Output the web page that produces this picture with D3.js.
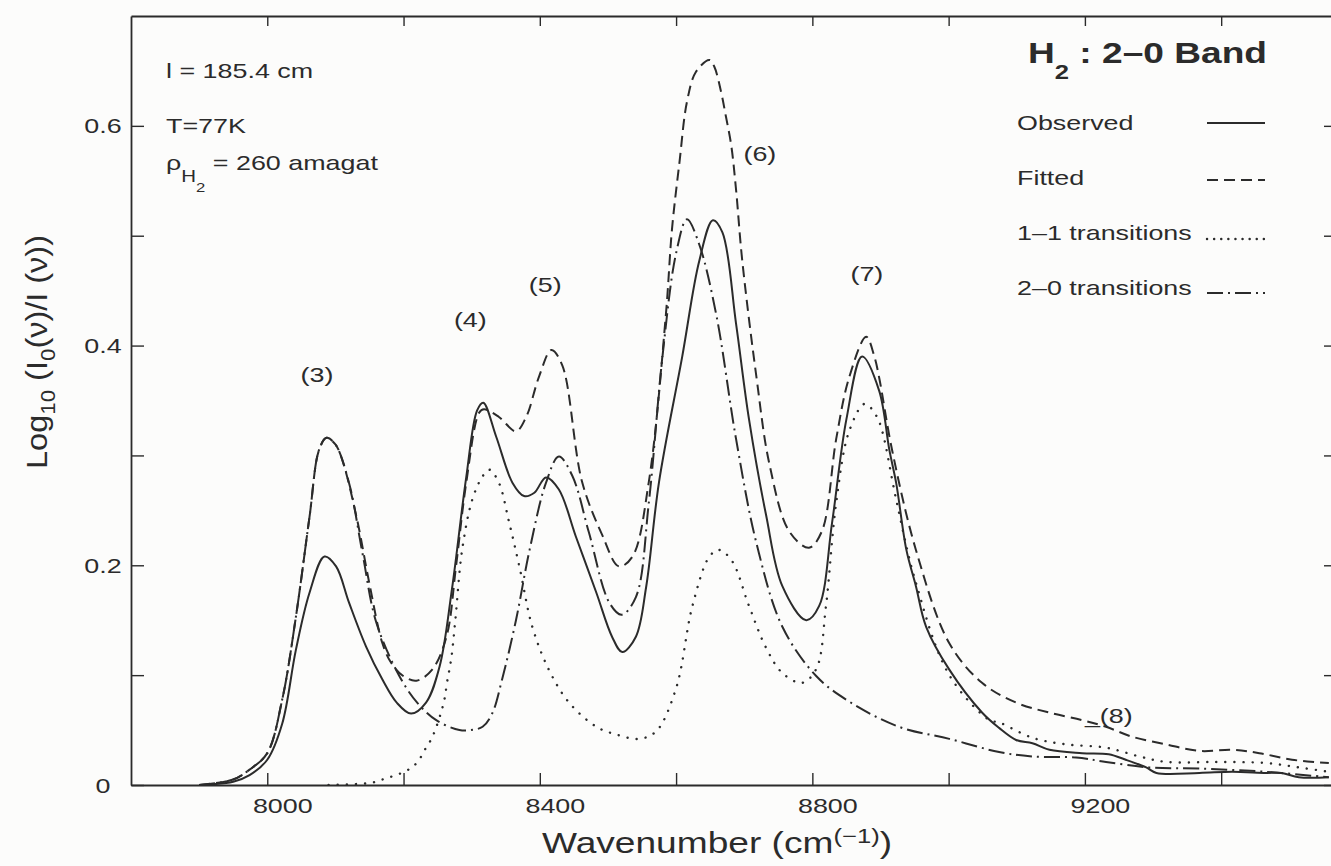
<!DOCTYPE html>
<html>
<head>
<meta charset="utf-8">
<script src="https://cdn.jsdelivr.net/npm/d3@7"></script>
<style>
  body { margin: 0; background: #fcfcfb; }
  svg { display: block; }
  text { font-family: "Liberation Sans", Arial, Helvetica, sans-serif; fill: #2b2b2b; }
</style>
</head>
<body>
<svg></svg>
<script>
var WIDTH = 1331;
var HEIGHT = 866;

// wavenumber (cm-1), log10(I0/I)
var observed = [
  [7900, 0], [7950, 0.003], [7974, 0.009], [8000, 0.023], [8022, 0.056], [8042, 0.123],
  [8062, 0.175], [8084, 0.208], [8101, 0.199], [8120, 0.166], [8145, 0.126], [8169, 0.096],
  [8190, 0.075], [8211, 0.065], [8233, 0.075], [8253, 0.108], [8271, 0.178], [8292, 0.280],
  [8308, 0.341], [8317, 0.348], [8336, 0.317], [8360, 0.275], [8377, 0.263], [8392, 0.266],
  [8409, 0.280], [8428, 0.269], [8453, 0.226], [8483, 0.175], [8506, 0.135], [8521, 0.121],
  [8541, 0.135], [8556, 0.180], [8575, 0.276], [8609, 0.390], [8634, 0.477], [8654, 0.514],
  [8668, 0.503], [8688, 0.420], [8707, 0.333], [8732, 0.246], [8756, 0.181], [8791, 0.150],
  [8810, 0.163], [8829, 0.239], [8850, 0.333], [8873, 0.390], [8898, 0.359], [8913, 0.305],
  [8923, 0.275], [8938, 0.214], [8952, 0.181], [8967, 0.144], [9001, 0.105], [9049, 0.066],
  [9074, 0.052], [9099, 0.041], [9123, 0.038], [9148, 0.032], [9196, 0.029], [9235, 0.028],
  [9260, 0.023], [9290, 0.016], [9305, 0.011], [9368, 0.011], [9416, 0.012], [9466, 0.011],
  [9489, 0.011], [9514, 0.007], [9558, 0.007]
];

var fitted = [
  [7900, 0], [7950, 0.005], [7974, 0.014], [8000, 0.029], [8022, 0.078], [8042, 0.153],
  [8062, 0.244], [8076, 0.305], [8087, 0.316], [8100, 0.310], [8110, 0.296], [8131, 0.244],
  [8150, 0.183], [8169, 0.129], [8182, 0.111], [8200, 0.099], [8219, 0.095], [8242, 0.105],
  [8263, 0.135], [8277, 0.199], [8292, 0.275], [8311, 0.339], [8318, 0.342], [8340, 0.335],
  [8365, 0.322], [8380, 0.335], [8399, 0.372], [8417, 0.396], [8433, 0.382], [8462, 0.276],
  [8492, 0.227], [8516, 0.199], [8536, 0.208], [8560, 0.276], [8585, 0.428], [8594, 0.506],
  [8605, 0.567], [8616, 0.622], [8629, 0.649], [8649, 0.660], [8656, 0.654], [8666, 0.631],
  [8673, 0.609], [8681, 0.582], [8688, 0.542], [8697, 0.478], [8718, 0.371], [8737, 0.292],
  [8766, 0.231], [8795, 0.216], [8814, 0.231], [8835, 0.315], [8854, 0.371], [8879, 0.408],
  [8891, 0.390], [8898, 0.371], [8917, 0.305], [8952, 0.214], [9001, 0.129], [9049, 0.093],
  [9099, 0.075], [9147, 0.066], [9196, 0.059], [9231, 0.053], [9269, 0.044], [9319, 0.037],
  [9368, 0.031], [9416, 0.032], [9456, 0.029], [9504, 0.023], [9558, 0.020]
];

var trans11 = [
  [8090, 0], [8135, 0.001], [8153, 0.002], [8169, 0.005], [8201, 0.012], [8216, 0.018],
  [8226, 0.026], [8233, 0.034], [8241, 0.042], [8247, 0.051], [8255, 0.066], [8260, 0.078],
  [8264, 0.094], [8270, 0.115], [8276, 0.150], [8286, 0.214], [8301, 0.260], [8316, 0.281],
  [8326, 0.287], [8340, 0.275], [8355, 0.239], [8370, 0.199], [8389, 0.144], [8414, 0.104],
  [8443, 0.075], [8483, 0.053], [8512, 0.046], [8546, 0.042], [8571, 0.049], [8600, 0.088],
  [8624, 0.163], [8649, 0.208], [8663, 0.214], [8682, 0.204], [8707, 0.163], [8732, 0.125],
  [8756, 0.102], [8785, 0.093], [8806, 0.106], [8820, 0.163], [8835, 0.257], [8854, 0.322],
  [8877, 0.347], [8894, 0.336], [8903, 0.321], [8923, 0.260], [8952, 0.184], [9001, 0.100],
  [9060, 0.059], [9074, 0.057], [9123, 0.043], [9172, 0.037], [9231, 0.034], [9280, 0.026],
  [9319, 0.021], [9393, 0.021], [9466, 0.020], [9514, 0.016], [9558, 0.012]
];

var trans20 = [
  [7900, 0], [7950, 0.005], [7974, 0.014], [8000, 0.029], [8022, 0.078], [8042, 0.153],
  [8062, 0.244], [8076, 0.305], [8087, 0.316], [8100, 0.310], [8120, 0.275], [8140, 0.210],
  [8160, 0.148], [8194, 0.099], [8220, 0.075], [8248, 0.059], [8282, 0.050], [8299, 0.050],
  [8316, 0.053], [8330, 0.065], [8345, 0.097], [8365, 0.150], [8385, 0.214], [8409, 0.275],
  [8428, 0.299], [8448, 0.281], [8472, 0.230], [8502, 0.166], [8520, 0.155], [8541, 0.171],
  [8560, 0.257], [8580, 0.390], [8600, 0.484], [8616, 0.515], [8634, 0.492], [8659, 0.428],
  [8688, 0.315], [8718, 0.220], [8756, 0.144], [8806, 0.099], [8854, 0.076], [8927, 0.053],
  [9001, 0.042], [9074, 0.030], [9123, 0.026], [9187, 0.025], [9231, 0.021], [9294, 0.016],
  [9368, 0.015], [9466, 0.012], [9558, 0.007]
];

var xTicks = [8000, 8200, 8400, 8600, 8800, 9000, 9200, 9400];
var xLabels = [8000, 8400, 8800, 9200];
var yTicks = [0, 0.1, 0.2, 0.3, 0.4, 0.5, 0.6];
var yLabels = [0, 0.2, 0.4, 0.6];

var peakNames = ["(3)", "(4)", "(5)", "(6)", "(7)", "_(8)"];
var peakAtX = [8073, 8298, 8408, 8723, 8880, 9200];
var peakAtY = [0.367, 0.417, 0.449, 0.568, 0.459, 0.056];

var legendNames = ["Observed", "Fitted", "1\u20131 transitions", "2\u20130 transitions"];

var INK = "#2b2b2b";
var SX = 1.28;   // the scanned lettering is wide

var svg = d3.select("svg")
    .attr("width", WIDTH)
    .attr("height", HEIGHT);

var x = d3.scaleLinear().domain([7800, 9570]).range([131, 1337]);
var y = d3.scaleLinear().domain([0, 0.7]).range([785, 16]);

svg.append("clipPath").attr("id", "plot")
  .append("rect")
    .attr("x", 131).attr("y", 16)
    .attr("width", 1337 - 131).attr("height", 785 - 16);

// axes, ticks pointing inward
function styleAxis(g) {
  g.selectAll("path.domain").attr("stroke", INK).attr("stroke-width", 1.8);
  g.selectAll(".tick line").attr("stroke", INK).attr("stroke-width", 1.4);
}

var bottom = svg.append("g")
    .attr("transform", "translate(0,785)")
    .call(d3.axisBottom(x).tickValues(xTicks).tickSize(-12).tickSizeOuter(0)
      .tickFormat(function(d) { return xLabels.indexOf(d) >= 0 ? d : ""; }))
    .call(styleAxis);
bottom.selectAll(".tick text")
    .attr("x", 0).attr("y", 0).attr("dy", null)
    .attr("transform", "translate(15,28) scale(" + SX + ",1)")
    .attr("font-size", 21)
    .attr("font-family", null)
    .attr("fill", INK);

svg.append("g")
    .attr("transform", "translate(0,16)")
    .call(d3.axisTop(x).tickValues(xTicks).tickSize(-10).tickSizeOuter(0).tickFormat(""))
    .call(styleAxis);

var left = svg.append("g")
    .attr("transform", "translate(131,0)")
    .call(d3.axisLeft(y).tickValues(yTicks).tickSize(-13).tickSizeOuter(0)
      .tickFormat(function(d) { return yLabels.indexOf(d) >= 0 ? d : ""; }))
    .call(styleAxis);
left.selectAll(".tick text")
    .attr("x", 0).attr("dy", null)
    .attr("text-anchor", "middle")
    .attr("transform", "translate(-28,7) scale(" + SX + ",1)")
    .attr("font-size", 21)
    .attr("font-family", null)
    .attr("fill", INK);

svg.append("g")
    .attr("transform", "translate(1337,0)")
    .call(d3.axisRight(y).tickValues(yTicks).tickSize(-13).tickSizeOuter(0).tickFormat(""))
    .call(styleAxis);

// curves
var line = d3.line()
    .x(function(d) { return x(d[0]); })
    .y(function(d) { return y(d[1]); })
    .curve(d3.curveCatmullRom.alpha(0.5));

var series = [
  {data: observed, dash: null, width: 2, cap: "butt"},
  {data: fitted, dash: "11,6", width: 2, cap: "butt"},
  {data: trans11, dash: "0.1,9", width: 2.4, cap: "round"},
  {data: trans20, dash: "16,5,2,5", width: 2, cap: "butt"}
];

svg.append("g").attr("clip-path", "url(#plot)")
  .selectAll("path")
  .data(series)
  .enter()
  .append("path")
    .attr("d", function(s) { return line(s.data); })
    .attr("fill", "none")
    .attr("stroke", INK)
    .attr("stroke-width", function(s) { return s.width; })
    .attr("stroke-dasharray", function(s) { return s.dash; })
    .attr("stroke-linecap", function(s) { return s.cap; })
    .attr("stroke-linejoin", "round");

// peak labels
svg.append("g")
  .selectAll("text")
  .data(peakNames)
  .enter()
  .append("text")
    .attr("transform", function(d, i) {
      return "translate(" + x(peakAtX[i]) + "," + y(peakAtY[i]) + ") scale(" + SX + ",1)";
    })
    .attr("text-anchor", function(d) { return d.charAt(0) === "_" ? "start" : "middle"; })
    .attr("font-size", 21)
    .text(function(d) { return d; });

// wide text helper
function wide(g, px, py, size) {
  return g.append("text")
    .attr("transform", "translate(" + px + "," + py + ") scale(" + SX + ",1)")
    .attr("font-size", size)
    .style("white-space", "pre");
}

// conditions, top left
wide(svg, 166, 78, 21).text("l = 185.4 cm");
wide(svg, 166, 133, 21).text("T=77K");
var rho = wide(svg, 166, 170, 21);
rho.append("tspan").text("\u03c1");
rho.append("tspan").attr("dy", 12).attr("font-size", 16).text("H");
rho.append("tspan").attr("dy", 10).attr("font-size", 13).text("2");
rho.append("tspan").attr("dy", -22).text(" = 260 amagat");

// title and legend
var title = wide(svg, 1028, 63, 29).attr("font-weight", "bold");
title.append("tspan").text("H");
title.append("tspan").attr("dy", 16).attr("font-size", 20).text("2");
title.append("tspan").attr("dy", -16).text(" : 2\u20130 Band");

var legendY = [130, 185, 240, 295];
var legendLineY = [123, 180, 239, 293];
var legend = svg.append("g");
legendNames.forEach(function(name, i) {
  wide(legend, 1017, legendY[i], 21).text(name);
  legend.append("line")
    .attr("x1", 1207).attr("x2", 1265)
    .attr("y1", legendLineY[i]).attr("y2", legendLineY[i])
    .attr("stroke", INK)
    .attr("stroke-width", series[i].width)
    .attr("stroke-dasharray", i === 2 ? "0.1,7" : series[i].dash)
    .attr("stroke-linecap", series[i].cap);
});

// axis titles
var xt = wide(svg, 542, 853, 29);
xt.append("tspan").text("Wavenumber (cm");
xt.append("tspan").attr("dy", -10).attr("font-size", 20).text("(\u22121)");
xt.append("tspan").attr("dy", 10).text(")");

var yt = svg.append("text")
    .attr("transform", "translate(47,352) rotate(-90) scale(1.12,1)")
    .attr("text-anchor", "middle")
    .attr("font-size", 29)
    .style("white-space", "pre");
yt.append("tspan").text("Log");
yt.append("tspan").attr("dy", 8).attr("font-size", 20).text("10");
yt.append("tspan").attr("dy", -8).text(" (I");
yt.append("tspan").attr("dy", 8).attr("font-size", 20).text("0");
yt.append("tspan").attr("dy", -8).text("(\u03bd)/I (\u03bd))");
</script>
</body>
</html>
